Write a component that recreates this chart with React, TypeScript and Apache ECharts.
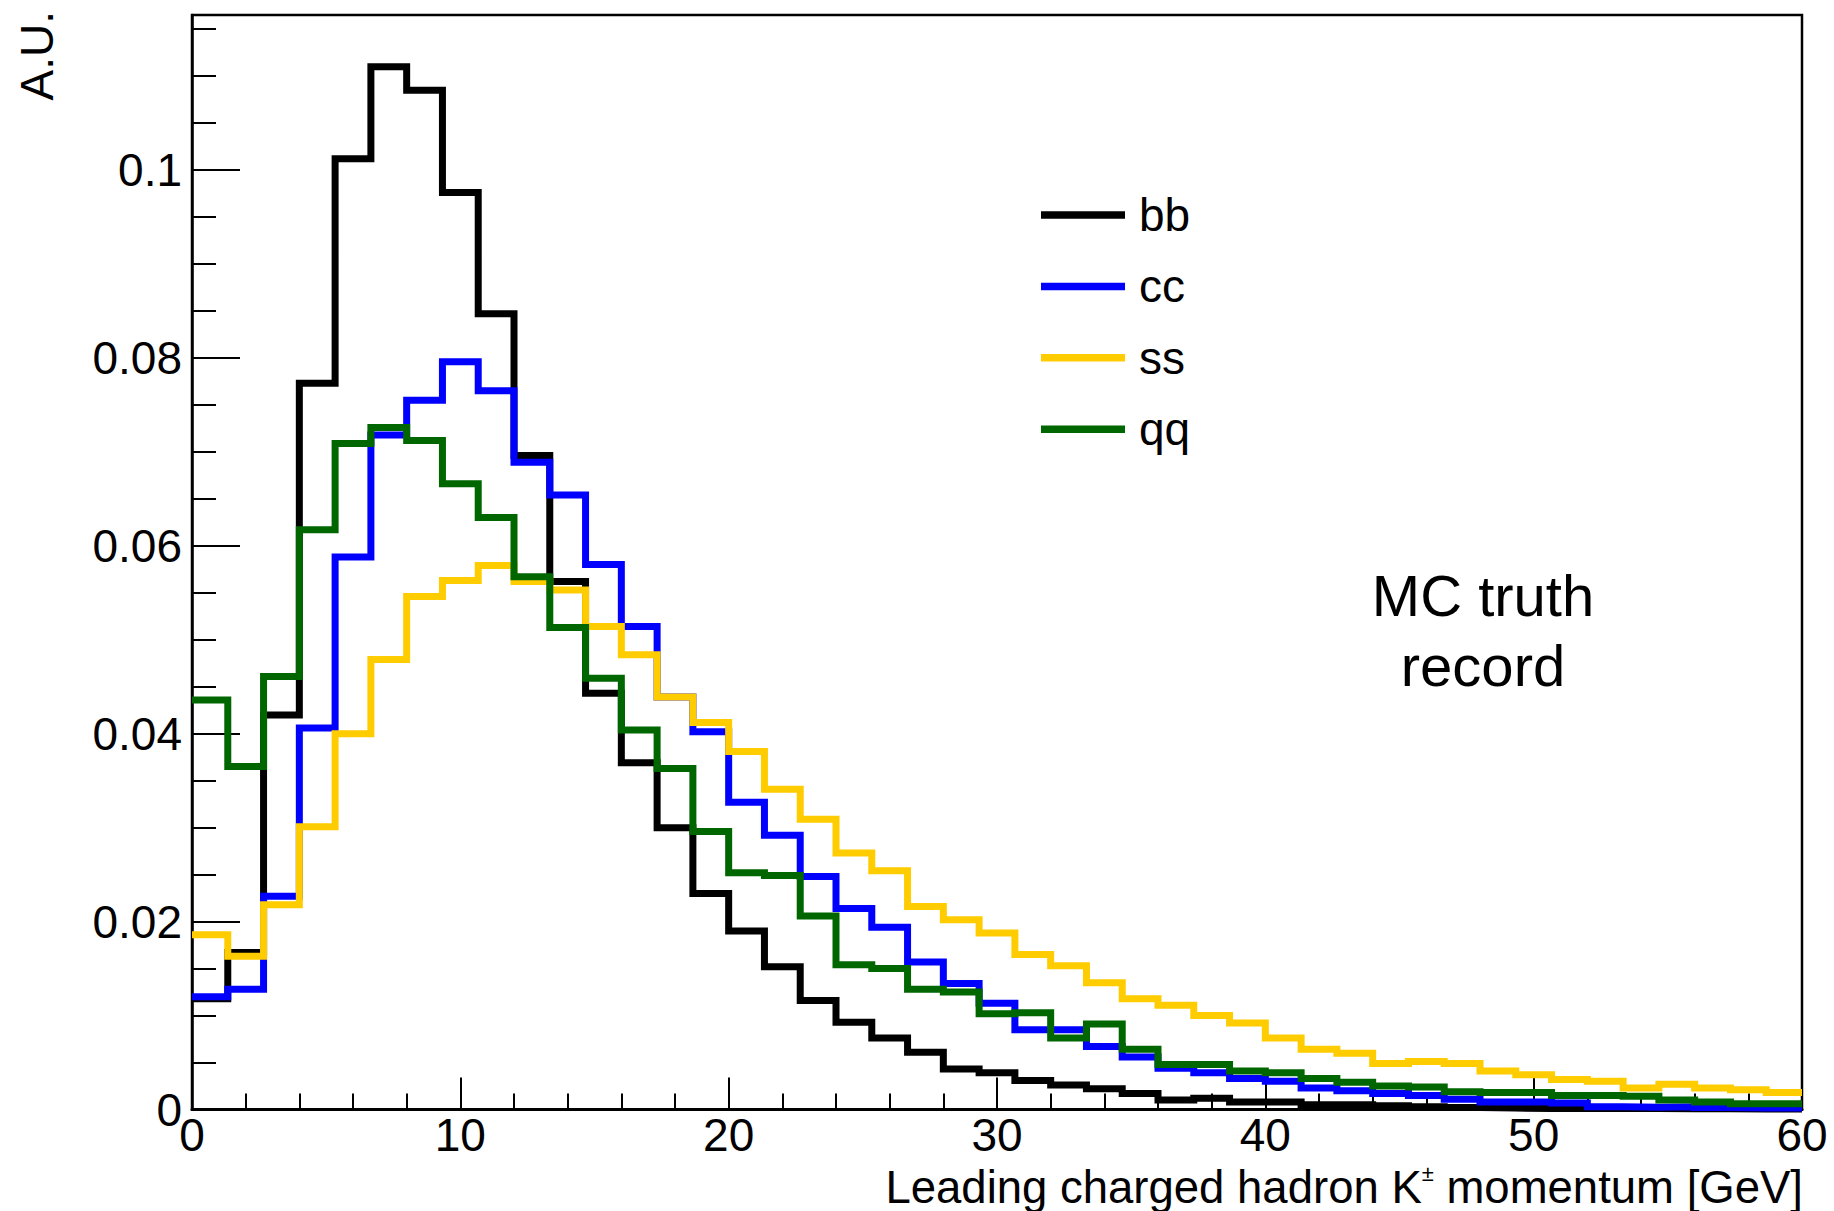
import React, { useEffect, useRef } from "react";
import * as echarts from "echarts";

// ---- Data ----
const X_MIN = 0;
const X_MAX = 60;
const Y_MIN = 0;
const Y_MAX = 0.1165;
const X_TICK_LABELS = ["0", "10", "20", "30", "40", "50", "60"];
const Y_TICK_LABELS = ["0", "0.02", "0.04", "0.06", "0.08", "0.1"];
const SERIES_NAMES = ["bb", "cc", "ss", "qq"];
const SERIES_COLORS = ["#000000", "#0000ff", "#ffcc00", "#006600"];

// 45 bins of 4/3 GeV between 0 and 60
const bb = [
  0.0118, 0.0167, 0.042, 0.0773, 0.1012, 0.111, 0.1085, 0.0976, 0.0847, 0.0696,
  0.0562, 0.0443, 0.0369, 0.03, 0.023, 0.019, 0.0152, 0.0116, 0.0093, 0.0076,
  0.0061, 0.0043, 0.0039, 0.0031, 0.0026, 0.0022, 0.0017, 0.001, 0.0012, 0.0008,
  0.0008, 0.0005, 0.0005, 0.0004, 0.0003, 0.0002, 0.00015, 0.0001, 0.0001, 0.0001,
  0.0001, 0.00008, 0.00008, 0.00005, 0.00005,
];
const cc = [
  0.012, 0.0128, 0.0227, 0.0406, 0.0588, 0.0718, 0.0755, 0.0796, 0.0765, 0.0689,
  0.0654, 0.058, 0.0514, 0.0439, 0.0402, 0.0327, 0.0292, 0.0248, 0.0214, 0.0194,
  0.0157, 0.0134, 0.0113, 0.0085, 0.0085, 0.0067, 0.0056, 0.0044, 0.0039, 0.0033,
  0.003, 0.0023, 0.002, 0.0017, 0.0015, 0.0011, 0.0008, 0.0008, 0.0007, 0.0003,
  0.00025, 0.0003, 0.0002, 0.00015, 0.00015,
];
const ss = [
  0.0186, 0.0163, 0.0218, 0.0301, 0.04, 0.0479, 0.0546, 0.0563, 0.0579, 0.0562,
  0.0553, 0.0514, 0.0484, 0.0439, 0.0412, 0.0381, 0.0341, 0.0309, 0.0273, 0.0254,
  0.0216, 0.0202, 0.0188, 0.0165, 0.0153, 0.0135, 0.0118, 0.0111, 0.01, 0.0092,
  0.0076, 0.0064, 0.006, 0.0049, 0.0051, 0.0049, 0.0041, 0.0037, 0.0032, 0.003,
  0.0023, 0.0027, 0.0023, 0.0021, 0.0018,
];
const qq = [
  0.0436, 0.0365, 0.0461, 0.0617, 0.0709, 0.0726, 0.0712, 0.0666, 0.063, 0.0567,
  0.0513, 0.0459, 0.0404, 0.0363, 0.0296, 0.0252, 0.0249, 0.0206, 0.0154, 0.015,
  0.0128, 0.0125, 0.0102, 0.0103, 0.0076, 0.0091, 0.0064, 0.0048, 0.0048, 0.0041,
  0.0039, 0.0033, 0.0029, 0.0025, 0.0024, 0.0019, 0.0018, 0.0018, 0.0015, 0.0015,
  0.0014, 0.001, 0.0008, 0.0006, 0.0006,
];
const SERIES_VALUES = [bb, cc, ss, qq];

const FONT = "'Liberation Sans', Arial, Helvetica, sans-serif";

// histogram as step points at bin edges
function toSteps(vals: number[]): number[][] {
  const w = (X_MAX - X_MIN) / vals.length;
  const pts = vals.map((v, i) => [X_MIN + i * w, v]);
  pts.push([X_MAX, vals[vals.length - 1]]);
  return pts;
}

export default function App() {
  const ref = useRef<HTMLDivElement>(null);

  useEffect(() => {
    if (!ref.current) return;
    const chart = echarts.init(ref.current, undefined, { renderer: "svg" });

    const option: any = {
      animation: false,
      backgroundColor: "#ffffff",
      textStyle: { fontFamily: FONT },
      grid: {
        left: 192,
        right: 32,
        top: 15,
        bottom: 101.5,
        show: true,
        borderColor: "#000",
        borderWidth: 2.5,
        backgroundColor: "transparent",
        containLabel: false,
      },
      legend: {
        orient: "vertical",
        left: 1041,
        top: 190,
        padding: 0,
        itemGap: 21.4,
        itemWidth: 84,
        itemHeight: 7.5,
        icon: "rect",
        data: SERIES_NAMES,
        textStyle: {
          fontFamily: FONT,
          fontSize: 46,
          lineHeight: 50,
          color: "#000",
          padding: [0, 0, 0, 9],
        },
      },
      xAxis: {
        type: "value",
        min: X_MIN,
        max: X_MAX,
        interval: 10,
        axisLine: { show: true, lineStyle: { color: "#000", width: 3 } },
        axisTick: { show: true, inside: true, length: 32, lineStyle: { color: "#000", width: 2 } },
        minorTick: { show: true, splitNumber: 5, length: 16, lineStyle: { color: "#000", width: 2 } },
        splitLine: { show: false },
        axisLabel: {
          show: true,
          margin: 7.5,
          fontSize: 46,
          lineHeight: 36,
          fontFamily: FONT,
          color: "#000",
          formatter: (v: number) => {
            const idx = Math.round(v / 10);
            return X_TICK_LABELS[idx] ?? String(v);
          },
        },
      },
      yAxis: [
        {
          type: "value",
          min: Y_MIN,
          max: Y_MAX,
          interval: 0.02,
          axisLine: { show: true, lineStyle: { color: "#000", width: 2.5 } },
          axisTick: { show: true, inside: true, length: 48, lineStyle: { color: "#000", width: 2 } },
          splitLine: { show: false },
          axisLabel: {
            show: true,
            margin: 10,
            fontSize: 46,
            lineHeight: 36,
            fontFamily: FONT,
            color: "#000",
            showMaxLabel: false,
            formatter: (v: number) => {
              const idx = Math.round(v / 0.02);
              return Y_TICK_LABELS[idx] ?? "";
            },
          },
        },
        {
          type: "value",
          min: Y_MIN,
          max: Y_MAX,
          interval: 0.005,
          position: "left",
          offset: 0,
          axisLine: { show: false },
          axisTick: { show: true, inside: true, length: 24, lineStyle: { color: "#000", width: 2 } },
          splitLine: { show: false },
          axisLabel: { show: false },
        },
      ],
      series: SERIES_NAMES.map((name, i) => ({
        name,
        type: "line",
        step: "end",
        yAxisIndex: 0,
        data: toSteps(SERIES_VALUES[i]),
        showSymbol: false,
        symbol: "none",
        color: SERIES_COLORS[i],
        itemStyle: { color: SERIES_COLORS[i] },
        lineStyle: { color: SERIES_COLORS[i], width: 7, join: "miter", cap: "butt" },
        z: 2 + i,
      })),
      graphic: [
        {
          type: "text",
          x: 37,
          y: 11,
          rotation: Math.PI / 2,
          style: {
            text: "A.U.",
            fontFamily: FONT,
            fontSize: 46,
            fill: "#000",
            align: "right",
            verticalAlign: "middle",
          },
        },
        {
          type: "text",
          x: 1803,
          y: 1187,
          style: {
            text: "{n|Leading charged hadron K}{s|±}{n| momentum [GeV]}",
            fontFamily: FONT,
            fontSize: 45,
            fill: "#000",
            align: "right",
            verticalAlign: "middle",
            rich: {
              n: { fontFamily: FONT, fontSize: 45.5, lineHeight: 50, fill: "#000", verticalAlign: "middle" },
              s: { fontFamily: FONT, fontSize: 22, lineHeight: 26, fill: "#000", verticalAlign: "top" },
            },
          },
        },
        {
          type: "text",
          x: 1483,
          y: 630,
          style: {
            text: "MC truth\nrecord",
            fontFamily: FONT,
            fontSize: 58,
            lineHeight: 70,
            fill: "#000",
            align: "center",
            verticalAlign: "middle",
          },
        },
      ],
    };

    chart.setOption(option);
    return () => {
      chart.dispose();
    };
  }, []);

  return (
    <div
      ref={ref}
      style={{ position: "absolute", left: 0, top: 0, width: 1834, height: 1211, background: "#fff" }}
    />
  );
}
